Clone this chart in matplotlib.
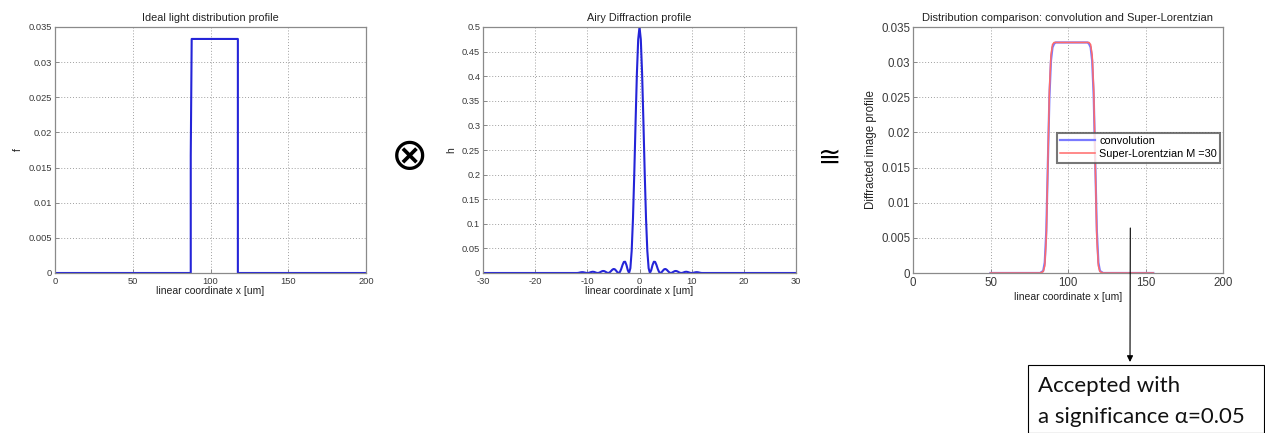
import matplotlib
matplotlib.use("Agg")
import matplotlib.pyplot as plt
from matplotlib.ticker import FuncFormatter, MultipleLocator
from matplotlib.patches import Rectangle

# ---------------- data ----------------
# Panel 1: ideal light distribution (rect profile)
ideal_x = [0, 87.3, 87.3, 87.9, 117.6, 117.6, 200]
ideal_f = [0, 0, 0.0167, 0.0333, 0.0333, 0, 0]

# Panel 2: Airy diffraction profile
airy_x = [-30, -12, -11.75, -11.5, -11.25, -11, -10.75, -10.5, -10.25, -10,
          -9.75, -9.5, -9.25, -9, -8.75, -8.5, -8.25, -8,
          -7.75, -7.5, -7.25, -7, -6.75, -6.5, -6.25, -6,
          -5.75, -5.5, -5.25, -5, -4.75, -4.5, -4.25, -4,
          -3.75, -3.5, -3.25, -3, -2.75, -2.5, -2.25, -2,
          -1.75, -1.5, -1.25, -1, -0.75, -0.5, -0.25, 0,
          0.25, 0.5, 0.75, 1, 1.25, 1.5, 1.75, 2,
          2.25, 2.5, 2.75, 3, 3.25, 3.5, 3.75, 4,
          4.25, 4.5, 4.75, 5, 5.25, 5.5, 5.75, 6,
          6.25, 6.5, 6.75, 7, 7.25, 7.5, 7.75, 8,
          8.25, 8.5, 8.75, 9, 9.25, 9.5, 9.75, 10,
          10.25, 10.5, 10.75, 11, 11.25, 11.5, 11.75, 12, 30]
airy_h = [0, 0, 0.0002, 0.0008, 0.0014, 0.0017, 0.0015, 0.0009, 0.0003, 0,
          0.0003, 0.0011, 0.0020, 0.0025, 0.0023, 0.0014, 0.0004, 0,
          0.0005, 0.0018, 0.0033, 0.0041, 0.0038, 0.0024, 0.0008, 0,
          0.0009, 0.0034, 0.0063, 0.0081, 0.0077, 0.0050, 0.0016, 0,
          0.0021, 0.0083, 0.0164, 0.0225, 0.0229, 0.0162, 0.0059, 0,
          0.0097, 0.0450, 0.1107, 0.2026, 0.3075, 0.4053, 0.4748, 0.5,
          0.4748, 0.4053, 0.3075, 0.2026, 0.1107, 0.0450, 0.0097, 0,
          0.0059, 0.0162, 0.0229, 0.0225, 0.0164, 0.0083, 0.0021, 0,
          0.0016, 0.0050, 0.0077, 0.0081, 0.0063, 0.0034, 0.0009, 0,
          0.0008, 0.0024, 0.0038, 0.0041, 0.0033, 0.0018, 0.0005, 0,
          0.0004, 0.0014, 0.0023, 0.0025, 0.0020, 0.0011, 0.0003, 0,
          0.0003, 0.0009, 0.0015, 0.0017, 0.0014, 0.0008, 0.0002, 0, 0]

# Panel 3: convolution vs Super-Lorentzian
conv_x = [50, 82, 84, 85, 86, 87, 88, 89, 90, 91, 92, 95, 100, 105, 110,
          112.6, 113.6, 114.6, 115.6, 116.6, 117.6, 118.6, 119.6, 120.6, 122.6, 155]
conv_y = [0, 0, 0.0003, 0.0015, 0.006, 0.0155, 0.025, 0.0302, 0.0321, 0.0326, 0.0328,
          0.0328, 0.0328, 0.0328, 0.0328,
          0.0328, 0.0326, 0.0321, 0.0302, 0.025, 0.0155, 0.006, 0.0015, 0.0003, 0, 0]
slor_x = [50, 82, 84, 85, 86, 87, 88, 89, 90, 91, 95, 100, 105, 110,
          113.6, 114.6, 115.6, 116.6, 117.6, 118.6, 119.6, 120.6, 122.6, 155]
slor_y = [0, 0, 0.0002, 0.001, 0.005, 0.0155, 0.026, 0.031, 0.0325, 0.0328,
          0.0328, 0.0328, 0.0328, 0.0328,
          0.0328, 0.0325, 0.031, 0.026, 0.0155, 0.005, 0.001, 0.0002, 0, 0]

# ---------------- figure ----------------
W, H = 1265, 433
fig = plt.figure(figsize=(W / 100, H / 100), dpi=100)
plt.rcParams['font.family'] = ['Liberation Sans', 'DejaVu Sans']

def ax_px(left, right, top, bottom):
    return fig.add_axes([left / W, (H - bottom) / H, (right - left) / W, (bottom - top) / H])

fmt = FuncFormatter(lambda v, p: ('%g' % round(v, 6)))

def style(ax, fs):
    for s in ax.spines.values():
        s.set_color('#8a8a8a')
        s.set_linewidth(0.9)
    ax.tick_params(direction='in', length=3, width=0.7, color='#8a8a8a',
                   labelsize=fs, labelcolor='#3a3a3a', pad=2)
    ax.tick_params(axis='x', pad=3)
    ax.grid(True, linestyle=(0, (1, 2)), color='#a0a0a0', linewidth=0.7)
    ax.yaxis.set_major_formatter(fmt)
    ax.xaxis.set_major_formatter(fmt)

blue = '#2424d8'
tcol = '#222222'

# Panel 1
ax1 = ax_px(55, 366, 27, 273)
ax1.plot(ideal_x, ideal_f, color=blue, lw=1.5)
ax1.set_xlim(0, 200)
ax1.set_ylim(0, 0.035)
ax1.xaxis.set_major_locator(MultipleLocator(50))
ax1.yaxis.set_major_locator(MultipleLocator(0.005))
style(ax1, 6.7)
ax1.set_title('Ideal light distribution profile', fontsize=7.8, color=tcol, pad=4)
ax1.set_xlabel('linear coordinate x [um]', fontsize=7.5, color=tcol, labelpad=0)
ax1.set_ylabel('f', fontsize=7.5, color=tcol, labelpad=4)

# Panel 2
ax2 = ax_px(483, 796, 27, 273)
ax2.plot(airy_x, airy_h, color=blue, lw=1.5)
ax2.set_xlim(-30, 30)
ax2.set_ylim(0, 0.5)
ax2.xaxis.set_major_locator(MultipleLocator(10))
ax2.yaxis.set_major_locator(MultipleLocator(0.05))
style(ax2, 6.7)
ax2.set_title('Airy Diffraction profile', fontsize=7.8, color=tcol, pad=4)
ax2.set_xlabel('linear coordinate x [um]', fontsize=7.5, color=tcol, labelpad=0)
ax2.set_ylabel('h', fontsize=7.5, color=tcol, labelpad=4)

# Panel 3
ax3 = ax_px(913, 1223, 27, 273)
ax3.plot(conv_x, conv_y, color='#7a7aff', lw=1.6, label='convolution')
ax3.plot(slor_x, slor_y, color='#ff6a6a', lw=1.1, label='Super-Lorentzian M =30')
ax3.set_xlim(0, 200)
ax3.set_ylim(0, 0.035)
ax3.xaxis.set_major_locator(MultipleLocator(50))
ax3.yaxis.set_major_locator(MultipleLocator(0.005))
style(ax3, 8.3)
ax3.set_title('Distribution comparison: convolution and Super-Lorentzian',
              fontsize=8.0, color=tcol, pad=4)
ax3.set_xlabel('linear coordinate x [um]', fontsize=7.5, color=tcol, labelpad=2)
ax3.set_ylabel('Diffracted image profile', fontsize=8.3, color=tcol, labelpad=3)
leg = ax3.legend(loc='upper left', bbox_to_anchor=(0.465, 0.57), fontsize=7.8,
                 frameon=True, fancybox=False, borderpad=0.3, handlelength=3.2,
                 handletextpad=0.4, labelspacing=0.3, borderaxespad=0)
leg.get_frame().set_edgecolor('#555555')
leg.get_frame().set_linewidth(1.5)

# Operators between panels
fig.text(410 / W, (H - 157) / H, '\u2297', fontsize=32, ha='center', va='center',
         family=['DejaVu Sans'])
fig.text(830 / W, (H - 158) / H, '\u2245', fontsize=20, ha='center', va='center',
         family=['DejaVu Sans'])

# Annotation arrow and box
ax3.annotate('', xy=(1130, H - 362), xycoords='figure pixels',
             xytext=(140.2, 0.0064), textcoords='data',
             arrowprops=dict(arrowstyle='-|>', color='black', lw=0.8,
                             shrinkA=0, shrinkB=0, mutation_scale=9),
             annotation_clip=False)
box = Rectangle((1028 / W, 0), (1264 - 1028) / W, (H - 365) / H,
                transform=fig.transFigure, facecolor='white', edgecolor='black',
                linewidth=0.8, clip_on=False)
fig.add_artist(box)
fig.text(1038 / W, (H - 386) / H, 'Accepted with', fontsize=16, va='center',
         ha='left', family=['Lato', 'DejaVu Sans'], color='#111111')
fig.text(1038 / W, (H - 417) / H, 'a significance \u03b1=0.05', fontsize=16,
         va='center', ha='left', family=['Lato', 'DejaVu Sans'], color='#111111')

fig.savefig('out.png', dpi=100)
